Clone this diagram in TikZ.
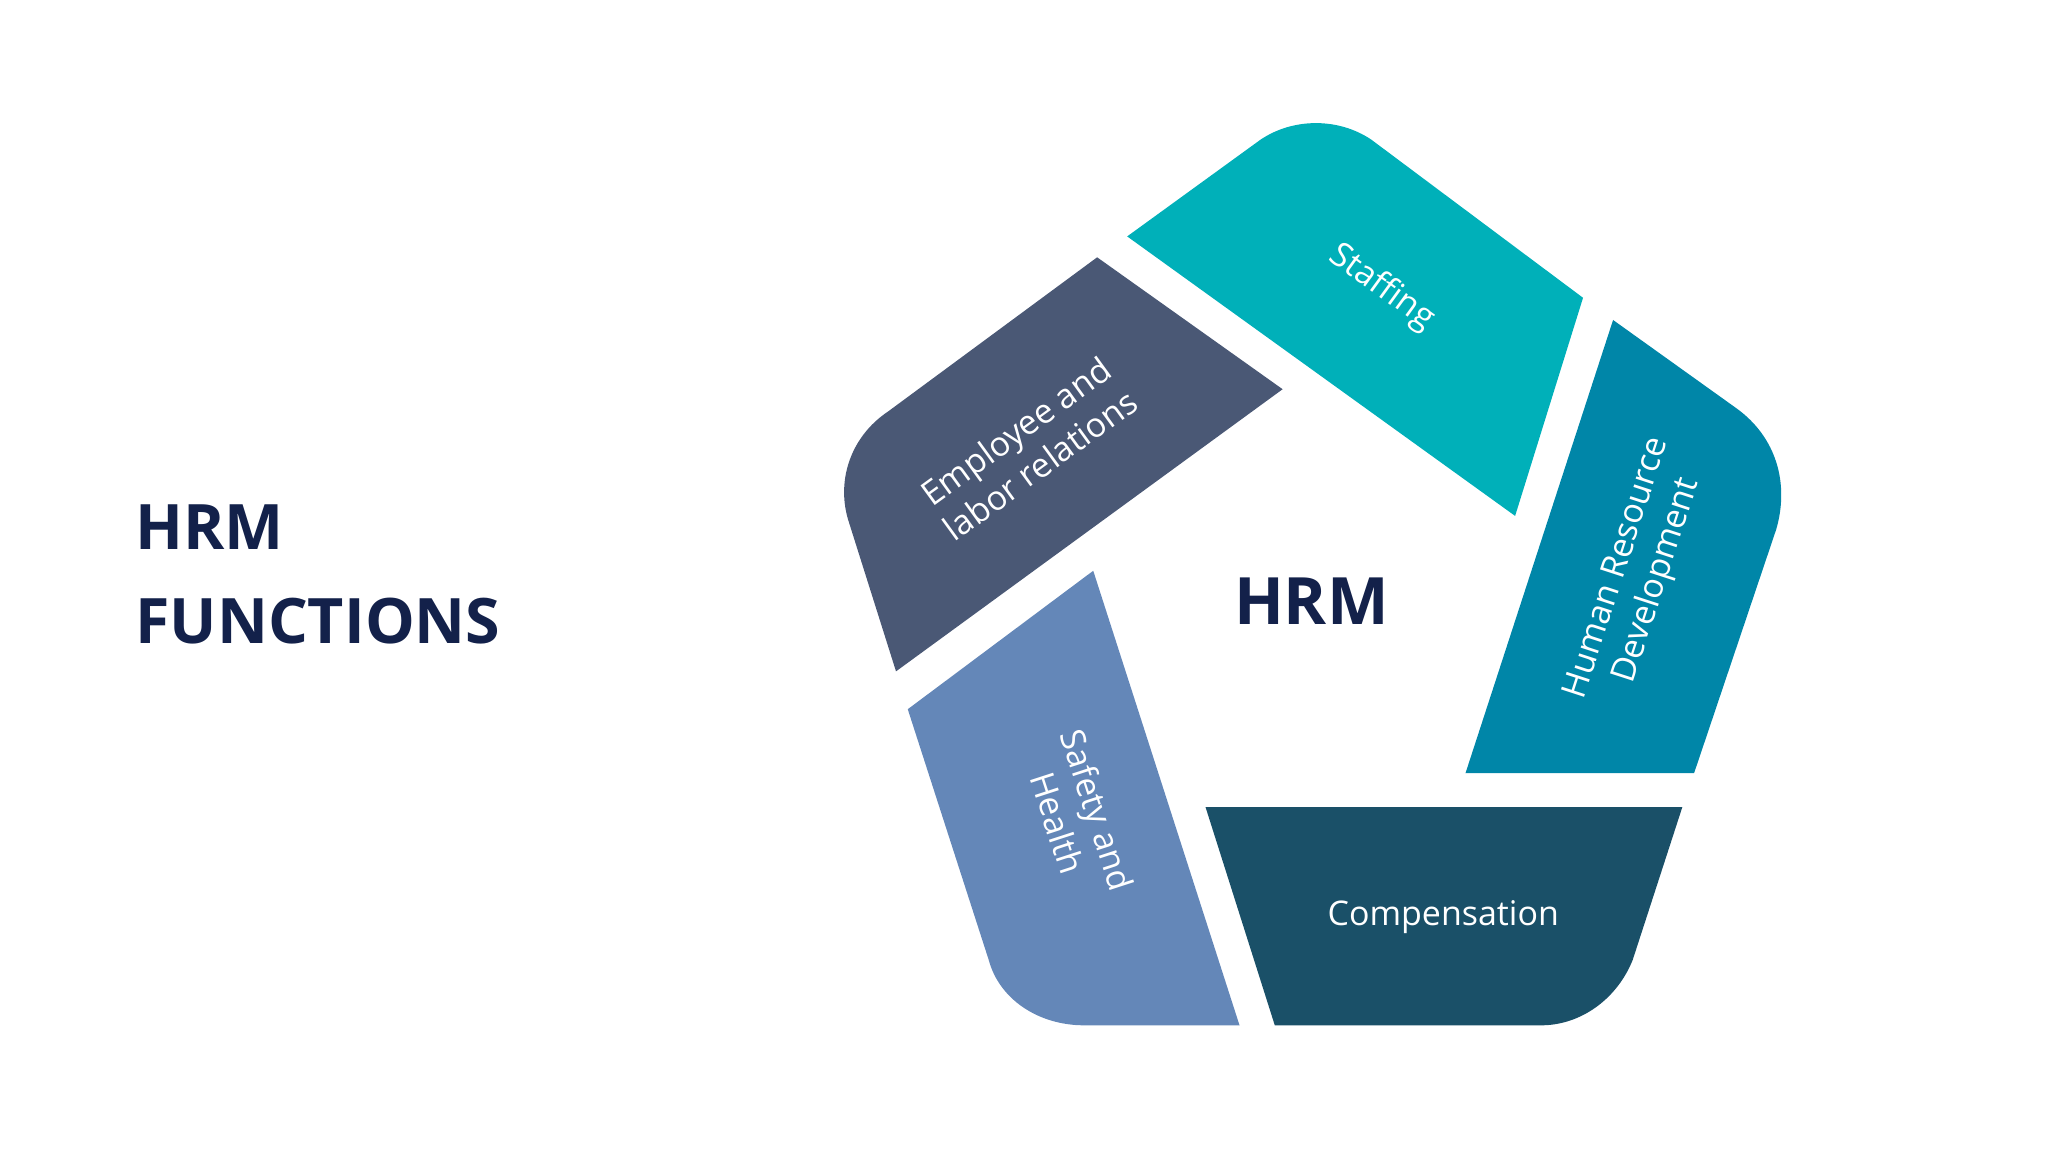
\documentclass[tikz,border=0pt]{standalone}
\usepackage{fontspec}
\setmainfont{Open Sans}
\definecolor{navy}{HTML}{13214A}
\definecolor{cstaff}{HTML}{00B0B9}
\definecolor{chrd}{HTML}{0086A8}
\definecolor{ccomp}{HTML}{1A5068}
\definecolor{csafe}{HTML}{6487B8}
\definecolor{cempl}{HTML}{4A5875}
\begin{document}
\begin{tikzpicture}[x=1pt, y=-1pt,
  label/.style={text=white, align=center, font=\fontsize{26}{32}\selectfont},
  title/.style={text=navy, font=\bfseries\fontsize{48}{72}\selectfont, align=left}]
\useasboundingbox (0,0) rectangle (1568,882);
% pentagon pieces
\fill[cstaff] (863,181) -- (965,107) .. controls (990,90) and (1025,90) .. (1050,107) -- (1212,228) -- (1160,395) -- cycle;
\fill[chrd] (1235,245) -- (1330,313) .. controls (1360,335) and (1370,370) .. (1360,405) -- (1297,592) -- (1122,592) -- cycle;
\fill[ccomp] (923,618) -- (1288,618) -- (1250,735) .. controls (1238,765) and (1210,785) .. (1180,785) -- (976,785) -- cycle;
\fill[csafe] (837,437) -- (949,785) -- (830,785) .. controls (795,785) and (765,765) .. (757,735) -- (695,543) -- cycle;
\fill[cempl] (840,197) -- (982,298) -- (686,514) -- (650,400) .. controls (640,370) and (650,335) .. (680,315) -- cycle;
% labels
\node[label, rotate=-36] (staff) at (1058,220) {Staffing};
\node[label, rotate=72] (hrd) at (1254,440) {Human Resource\\Development};
\node[label] (comp) at (1105,702) {Compensation};
\node[label, rotate=-72] (safe) at (825,625) {Safety and\\Health};
\node[label, rotate=36] (empl) at (787,343) {Employee and\\labor relations};
\node[text=navy, font=\bfseries\fontsize{50}{60}\selectfont] (hrm) at (1004,460) {HRM};
\node[title, anchor=west] (head) at (100,440) {HRM\\FUNCTIONS};
\end{tikzpicture}
\end{document}
